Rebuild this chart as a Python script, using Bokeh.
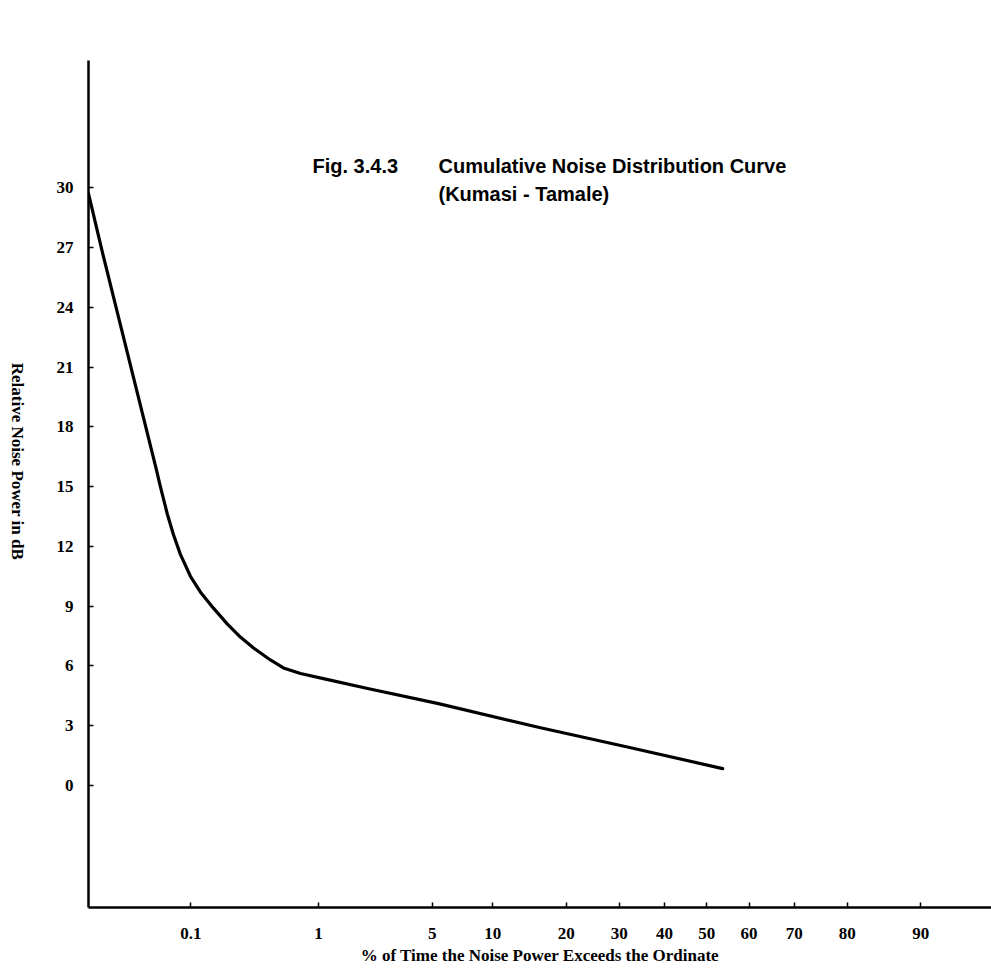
import math
from statistics import NormalDist
from bokeh.plotting import figure
from bokeh.layouts import row
from bokeh.models import FixedTicker, Range1d, Label
from bokeh.core.properties import value
from bokeh.embed import file_html
from bokeh.resources import INLINE

# ---- data ----
pct_time = [0.0106, 0.0146, 0.0480, 0.0531, 0.0616, 0.0698, 0.0806, 0.0989,
            0.121, 0.156, 0.204, 0.260, 0.331, 0.447, 0.560, 0.747, 1.10,
            2.11, 5.40, 15.8, 32.2, 53.8]
noise_db = [29.7, 26.8, 16.0, 15.0, 13.6, 12.6, 11.6, 10.5,
            9.7, 8.9, 8.1, 7.45, 6.9, 6.3, 5.9, 5.62, 5.35,
            4.87, 4.11, 2.91, 1.91, 0.85]

x_tick_pct = [0.1, 1, 5, 10, 20, 30, 40, 50, 60, 70, 80, 90]
x_tick_labels = ["0.1", "1", "5", "10", "20", "30", "40", "50", "60", "70", "80", "90"]
y_ticks = [0, 3, 6, 9, 12, 15, 18, 21, 24, 27, 30]

x_limits_pct = (0.0106, 95.6)
y_limits_db = (-6.12, 36.38)

title_fig = "Fig. 3.4.3"
title_line1 = "Cumulative Noise Distribution Curve"
title_line2 = "(Kumasi - Tamale)"
x_title = "% of Time the Noise Power Exceeds the Ordinate"
y_title = "Relative Noise Power in dB"

# ---- probability (normal) scale ----
nd = NormalDist()
def probit(p):
    return nd.inv_cdf(p / 100.0)

xs = [probit(v) for v in pct_time]
x_ticks = [probit(v) for v in x_tick_pct]
x0, x1 = probit(x_limits_pct[0]), probit(x_limits_pct[1])

W, H = 991, 976
LAB_W = 40
LEFT, RIGHT, TOP, BOTTOM = 88, 0, 60, 69
serif = "Liberation Serif"
sans = "Liberation Sans"

# narrow strip carrying the y-axis title (reads top to bottom)
lab = figure(width=LAB_W, height=H, output_backend="svg", toolbar_location=None,
             x_range=Range1d(0, LAB_W), y_range=Range1d(0, H),
             x_axis_location=None, y_axis_location=None, min_border=0)
lab.outline_line_color = None
lab.grid.visible = False
lab.background_fill_color = "white"
lab.border_fill_color = "white"
lab.text(x=[17], y=[H - 462], text=[y_title], angle=-math.pi / 2,
         text_font=value(serif), text_font_style="bold", text_font_size="17px",
         text_align="center", text_baseline="middle", text_color="black")

p = figure(width=W - LAB_W, height=H, output_backend="svg", toolbar_location=None,
           x_range=Range1d(x0, x1), y_range=Range1d(*y_limits_db),
           min_border_left=LEFT - LAB_W, min_border_right=RIGHT,
           min_border_top=TOP, min_border_bottom=BOTTOM)
p.outline_line_color = None
p.xgrid.visible = False
p.ygrid.visible = False
p.background_fill_color = "white"
p.border_fill_color = "white"

xa = p.xaxis[0]
xa.ticker = FixedTicker(ticks=x_ticks)
xa.major_label_overrides = {t: l for t, l in zip(x_ticks, x_tick_labels)}
xa.axis_line_width = 2.5
xa.axis_line_color = "black"
xa.major_tick_in = 5
xa.major_tick_out = 0
xa.major_tick_line_width = 1.5
xa.minor_tick_line_color = None
xa.major_label_standoff = 20
xa.major_label_text_font = serif
xa.major_label_text_font_style = "bold"
xa.major_label_text_font_size = "17px"
xa.major_label_text_color = "black"
xa.axis_label = x_title
xa.axis_label_text_font = serif
xa.axis_label_text_font_style = "bold"
xa.axis_label_text_font_size = "17px"
xa.axis_label_text_color = "black"
xa.axis_label_standoff = 4

ya = p.yaxis[0]
ya.ticker = FixedTicker(ticks=y_ticks)
ya.axis_line_width = 2.5
ya.axis_line_color = "black"
ya.major_tick_in = 5
ya.major_tick_out = 0
ya.major_tick_line_width = 1.5
ya.minor_tick_line_color = None
ya.major_label_standoff = 15
ya.major_label_text_font = serif
ya.major_label_text_font_style = "bold"
ya.major_label_text_font_size = "17px"
ya.major_label_text_color = "black"

# curve
p.line(xs, noise_db, line_color="black", line_width=3.2, line_join="round", line_cap="round")

# helpers to position the figure title from page pixel positions
fw = W - LEFT - RIGHT
fh = H - TOP - BOTTOM
def px_x(px):
    return x0 + (px - LEFT) / fw * (x1 - x0)
def px_y(py):
    return y_limits_db[1] - (py - TOP) / fh * (y_limits_db[1] - y_limits_db[0])

p.add_layout(Label(x=px_x(312), y=px_y(165), text=title_fig, text_font=sans,
                   text_font_style="bold", text_font_size="20px",
                   text_align="left", text_baseline="middle", text_color="black"))
p.add_layout(Label(x=px_x(438), y=px_y(165), text=title_line1, text_font=sans,
                   text_font_style="bold", text_font_size="20px",
                   text_align="left", text_baseline="middle", text_color="black"))
p.add_layout(Label(x=px_x(438), y=px_y(193), text=title_line2, text_font=sans,
                   text_font_style="bold", text_font_size="20px",
                   text_align="left", text_baseline="middle", text_color="black"))

layout = row(lab, p, spacing=0)
open("out.html", "w").write(file_html(layout, INLINE))
